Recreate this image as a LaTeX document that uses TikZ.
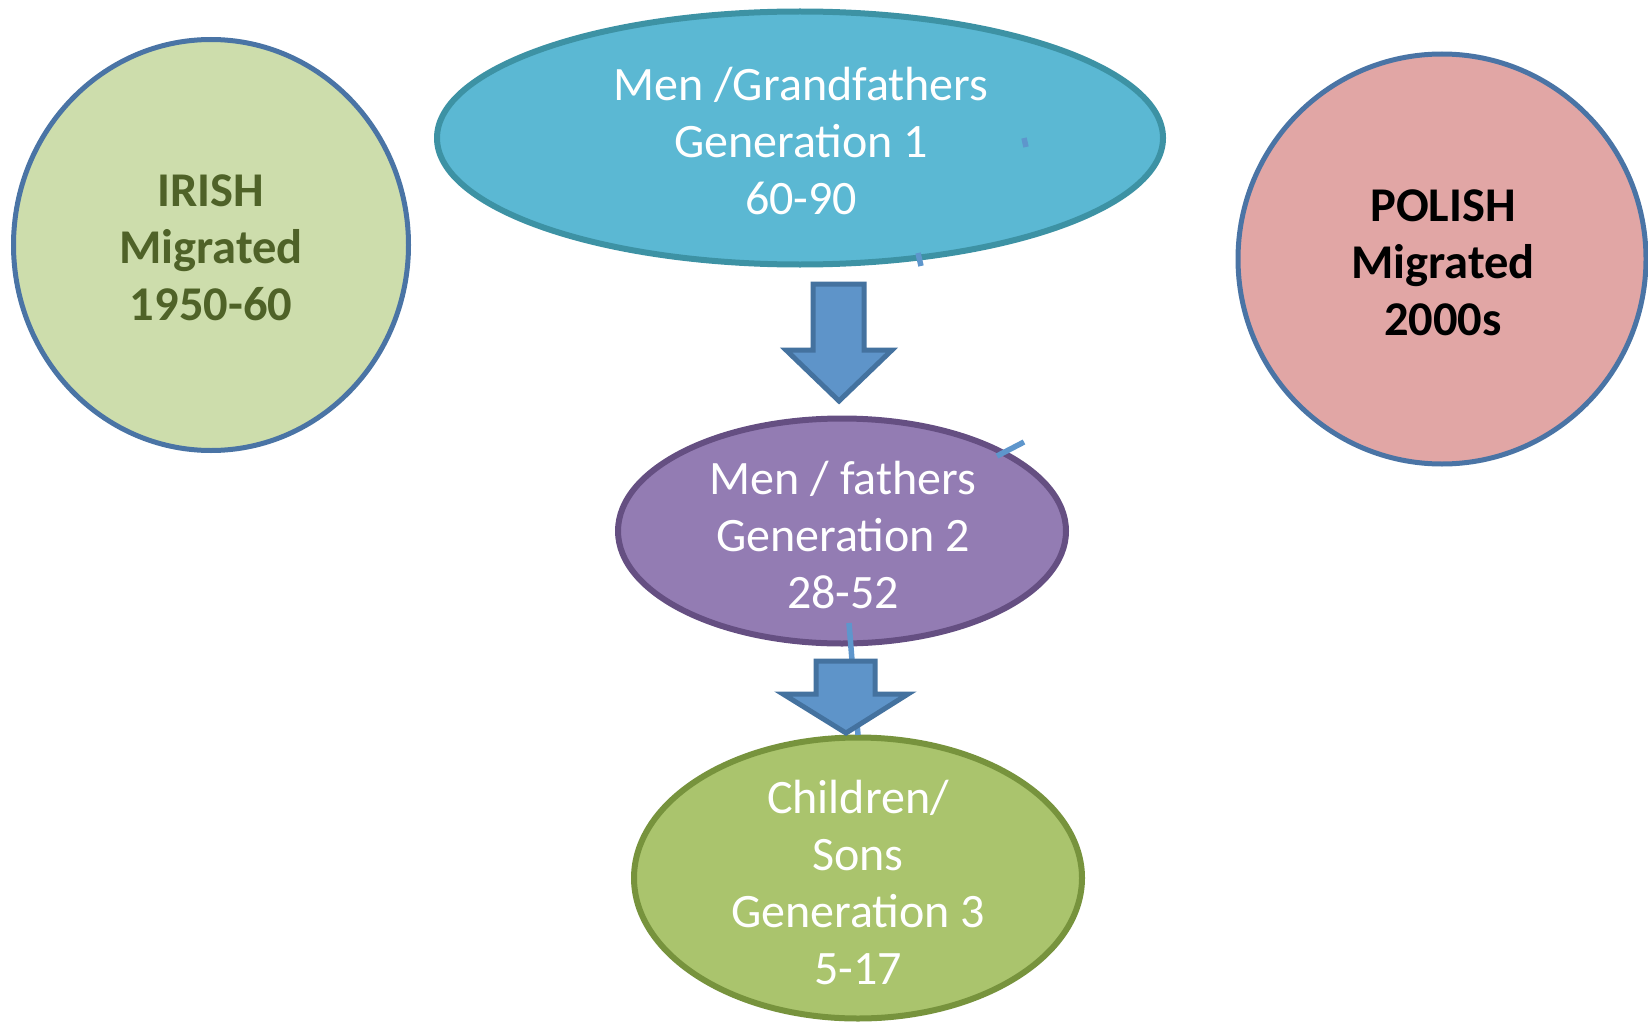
\documentclass[tikz,border=0pt]{standalone}
\usepackage{fontspec}
\setmainfont{Carlito}
\usetikzlibrary{shapes.geometric}
\definecolor{irishfill}{HTML}{CDDDAC}
\definecolor{irishtext}{HTML}{4F6228}
\definecolor{circborder}{HTML}{4A74A5}
\definecolor{polishfill}{HTML}{E1A6A5}
\definecolor{gonefill}{HTML}{5BB8D3}
\definecolor{goneborder}{HTML}{3D92A4}
\definecolor{gtwofill}{HTML}{937CB3}
\definecolor{gtwoborder}{HTML}{654F82}
\definecolor{gthreefill}{HTML}{AAC46D}
\definecolor{gthreeborder}{HTML}{77933D}
\definecolor{arrowfill}{HTML}{5E94C9}
\definecolor{arrowborder}{HTML}{44729F}
\definecolor{strayline}{HTML}{5E96CC}
\tikzset{
  blob/.style={ellipse, inner sep=0pt},
  circ/.style={blob, draw=circborder, line width=5pt},
  gen/.style={blob, line width=6pt},
  lbl/.style={align=center, font=\fontsize{48}{57}\selectfont, text=white},
  boldlbl/.style={align=center, font=\fontsize{48.5}{57}\selectfont\bfseries},
  blockarrow/.style={fill=arrowfill, draw=arrowborder, line width=5pt, line join=miter},
  stray/.style={draw=strayline, line width=5.5pt},
}
\begin{document}
\begin{tikzpicture}[x=1pt,y=-1pt]
\useasboundingbox (0,0) rectangle (1648,1022);
% side circles
\node[circ, fill=irishfill, minimum width=395pt, minimum height=411pt] (irish) at (211,245) {};
\node[boldlbl, text=irishtext] (irishtxt) at (211,248) {IRISH\\Migrated\\1950-60};
\node[circ, fill=polishfill, minimum width=408pt, minimum height=410pt] (polish) at (1442,259) {};
\node[boldlbl, text=black] (polishtxt) at (1443,263) {POLISH\\Migrated\\2000s};
% generations
\node[gen, fill=gonefill, draw=goneborder, minimum width=726pt, minimum height=253pt] (g1) at (800,138) {};
\node[lbl] (g1txt) at (801,141) {Men /Grandfathers\\Generation 1\\60-90};
\node[gen, fill=gtwofill, draw=gtwoborder, minimum width=448pt, minimum height=225pt] (g2) at (842,531) {};
\node[lbl] (g2txt) at (843,535) {Men / fathers\\Generation 2\\28-52};
\node[gen, fill=gthreefill, draw=gthreeborder, minimum width=448pt, minimum height=281pt] (g3) at (858,878) {};
\node[lbl] (g3txt) at (858,882) {Children/\\Sons\\Generation 3\\5-17};
% stray marks
\coordinate (s1a) at (918,253); \coordinate (s1b) at (921,266);
\draw[stray] (s1a) -- (s1b);
\coordinate (s2a) at (997,456); \coordinate (s2b) at (1024,442);
\draw[stray] (s2a) -- (s2b);
\coordinate (s3a) at (849,623); \coordinate (s3b) at (858,735);
\draw[stray] (s3a) -- (s3b);
\coordinate (s4a) at (1024,138); \coordinate (s4b) at (1026,147);
\draw[stray] (s4a) -- (s4b);
% block arrows
\draw[blockarrow] (813,284) -- (864,284) -- (864,350) -- (892,350) -- (839,401) -- (786,350) -- (813,350) -- cycle;
\draw[blockarrow] (816,661) -- (875,661) -- (875,694) -- (908,694) -- (846,733) -- (783,694) -- (816,694) -- cycle;
\end{tikzpicture}
\end{document}
